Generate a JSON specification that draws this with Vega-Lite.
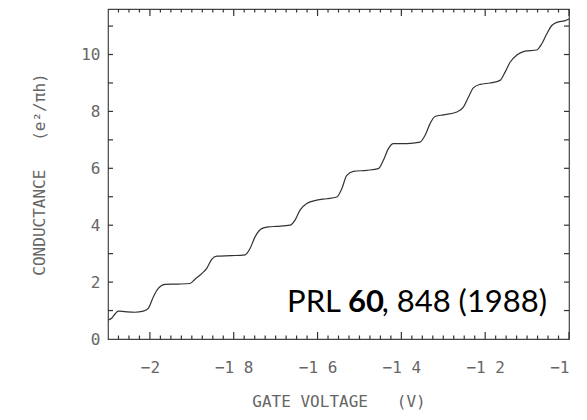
{
  "$schema": "https://vega.github.io/schema/vega-lite/v6.json",
  "width": 461,
  "height": 330,
  "autosize": {"type": "none"},
  "padding": {"left": 108, "top": 9, "right": 18, "bottom": 81},
  "background": "white",
  "config": {
    "view": {"stroke": "#444", "strokeWidth": 1.2},
    "axis": {
      "labelFont": "DejaVu Sans Mono",
      "titleFont": "DejaVu Sans Mono",
      "labelColor": "#666",
      "titleColor": "#666",
      "labelFontSize": 16,
      "titleFontSize": 16,
      "titleFontWeight": "normal",
      "ticks": false,
      "domain": false,
      "grid": false,
      "labelOverlap": false
    },
    "point": {"color": "#333", "filled": false, "strokeWidth": 1.2, "opacity": 1}
  },
  "datasets": {
    "curve": [
      {"v": -2.0993, "g": 0.67}, {"v": -2.0912, "g": 0.73}, {"v": -2.0833, "g": 0.88}, {"v": -2.0754, "g": 0.98},
      {"v": -2.0594, "g": 0.96}, {"v": -2.0356, "g": 0.94}, {"v": -2.0158, "g": 0.98}, {"v": -2.0038, "g": 1.08},
      {"v": -1.9919, "g": 1.48}, {"v": -1.98, "g": 1.78}, {"v": -1.964, "g": 1.92}, {"v": -1.9322, "g": 1.93},
      {"v": -1.9043, "g": 1.95}, {"v": -1.8924, "g": 2.1}, {"v": -1.8764, "g": 2.3}, {"v": -1.8644, "g": 2.48},
      {"v": -1.8525, "g": 2.8}, {"v": -1.8406, "g": 2.91}, {"v": -1.8048, "g": 2.93}, {"v": -1.773, "g": 2.96},
      {"v": -1.7611, "g": 3.18}, {"v": -1.7492, "g": 3.59}, {"v": -1.7332, "g": 3.88}, {"v": -1.7174, "g": 3.94},
      {"v": -1.6974, "g": 3.96}, {"v": -1.6656, "g": 4.0}, {"v": -1.6537, "g": 4.18}, {"v": -1.6418, "g": 4.53},
      {"v": -1.6258, "g": 4.76}, {"v": -1.6019, "g": 4.88}, {"v": -1.5781, "g": 4.93}, {"v": -1.5542, "g": 4.99},
      {"v": -1.5422, "g": 5.28}, {"v": -1.5303, "g": 5.75}, {"v": -1.5146, "g": 5.89}, {"v": -1.4826, "g": 5.93},
      {"v": -1.4549, "g": 5.99}, {"v": -1.443, "g": 6.28}, {"v": -1.431, "g": 6.69}, {"v": -1.4191, "g": 6.87},
      {"v": -1.3871, "g": 6.87}, {"v": -1.3554, "g": 6.92}, {"v": -1.3434, "g": 7.16}, {"v": -1.3315, "g": 7.57},
      {"v": -1.3196, "g": 7.82}, {"v": -1.2998, "g": 7.88}, {"v": -1.2678, "g": 7.98}, {"v": -1.252, "g": 8.15},
      {"v": -1.2401, "g": 8.5}, {"v": -1.2282, "g": 8.83}, {"v": -1.2122, "g": 8.95}, {"v": -1.1883, "g": 9.0},
      {"v": -1.1644, "g": 9.09}, {"v": -1.1525, "g": 9.38}, {"v": -1.1406, "g": 9.73}, {"v": -1.1246, "g": 9.98},
      {"v": -1.1048, "g": 10.12}, {"v": -1.0769, "g": 10.16}, {"v": -1.0649, "g": 10.38}, {"v": -1.053, "g": 10.73},
      {"v": -1.0411, "g": 11.02}, {"v": -1.0291, "g": 11.13}, {"v": -1.0093, "g": 11.19}, {"v": -1.0, "g": 11.25}
    ],
    "xmajor": [{"t": -2}, {"t": -1.8}, {"t": -1.6}, {"t": -1.4}, {"t": -1.2}, {"t": -1}],
    "xminor": [
      {"t": -2.075}, {"t": -2.05}, {"t": -2.025}, {"t": -1.975}, {"t": -1.95}, {"t": -1.925}, {"t": -1.9}, {"t": -1.875}, {"t": -1.85}, {"t": -1.825},
      {"t": -1.775}, {"t": -1.75}, {"t": -1.725}, {"t": -1.7}, {"t": -1.675}, {"t": -1.65}, {"t": -1.625},
      {"t": -1.575}, {"t": -1.55}, {"t": -1.525}, {"t": -1.5}, {"t": -1.475}, {"t": -1.45}, {"t": -1.425},
      {"t": -1.375}, {"t": -1.35}, {"t": -1.325}, {"t": -1.3}, {"t": -1.275}, {"t": -1.25}, {"t": -1.225},
      {"t": -1.175}, {"t": -1.15}, {"t": -1.125}, {"t": -1.1}, {"t": -1.075}, {"t": -1.05}, {"t": -1.025}
    ],
    "yticks": [{"t": 1}, {"t": 2}, {"t": 3}, {"t": 4}, {"t": 5}, {"t": 6}, {"t": 7}, {"t": 8}, {"t": 9}, {"t": 10}, {"t": 11}],
    "label": [{"a": "PRL", "b": "60", "c": ", 848 (1988)"}]
  },
  "layer": [
    {
      "data": {"name": "curve"},
      "mark": {"type": "line", "color": "#333", "strokeWidth": 1.2, "interpolate": "monotone"},
      "encoding": {
        "x": {
          "field": "v", "type": "quantitative",
          "scale": {"domain": [-2.1, -1.0], "nice": false, "zero": false},
          "axis": {
            "orient": "bottom",
            "title": "GATE VOLTAGE\u00a0\u00a0\u00a0(V)",
            "titlePadding": 18,
            "values": [-2, -1.8, -1.6, -1.4, -1.2, -1],
            "labelExpr": "replace(format(datum.value, '~g'), '.', ' ')",
            "labelPadding": 20
          }
        },
        "y": {
          "field": "g", "type": "quantitative",
          "scale": {"domain": [0, 11.6], "nice": false},
          "axis": {
            "orient": "left",
            "title": "CONDUCTANCE\u00a0\u00a0\u00a0(e²/πh)",
            "titlePadding": 33,
            "values": [0, 2, 4, 6, 8, 10],
            "labelPadding": 8
          }
        }
      }
    },
    {
      "data": {"name": "xmajor"},
      "mark": {"type": "point", "shape": "M0,0L0,-1", "size": 196},
      "encoding": {"x": {"field": "t", "type": "quantitative"}, "y": {"datum": 0}}
    },
    {
      "data": {"name": "xmajor"},
      "mark": {"type": "point", "shape": "M0,0L0,1", "size": 196},
      "encoding": {"x": {"field": "t", "type": "quantitative"}, "y": {"datum": 11.6}}
    },
    {
      "data": {"name": "xminor"},
      "mark": {"type": "point", "shape": "M0,0L0,-1", "size": 49},
      "encoding": {"x": {"field": "t", "type": "quantitative"}, "y": {"datum": 0}}
    },
    {
      "data": {"name": "xminor"},
      "mark": {"type": "point", "shape": "M0,0L0,1", "size": 49},
      "encoding": {"x": {"field": "t", "type": "quantitative"}, "y": {"datum": 11.6}}
    },
    {
      "data": {"name": "yticks"},
      "mark": {"type": "point", "shape": "M0,0L1,0", "size": 100},
      "encoding": {"y": {"field": "t", "type": "quantitative"}, "x": {"datum": -2.1}}
    },
    {
      "data": {"name": "yticks"},
      "mark": {"type": "point", "shape": "M0,0L-1,0", "size": 100},
      "encoding": {"y": {"field": "t", "type": "quantitative"}, "x": {"datum": -1.0}}
    },
    {
      "data": {"name": "label"},
      "mark": {"type": "text", "font": "Lato", "fontSize": 31, "color": "black", "align": "left", "baseline": "alphabetic"},
      "encoding": {
        "text": {"field": "a"},
        "x": {"datum": -1.6728},
        "y": {"datum": 0.95}
      }
    },
    {
      "data": {"name": "label"},
      "mark": {"type": "text", "font": "Lato", "fontSize": 31, "fontWeight": "bold", "color": "black", "align": "left", "baseline": "alphabetic"},
      "encoding": {
        "text": {"field": "b"},
        "x": {"datum": -1.5272},
        "y": {"datum": 0.95}
      }
    },
    {
      "data": {"name": "label"},
      "mark": {"type": "text", "font": "Lato", "fontSize": 31, "color": "black", "align": "right", "baseline": "alphabetic"},
      "encoding": {
        "text": {"field": "c"},
        "x": {"datum": -1.0523},
        "y": {"datum": 0.95}
      }
    }
  ]
}
